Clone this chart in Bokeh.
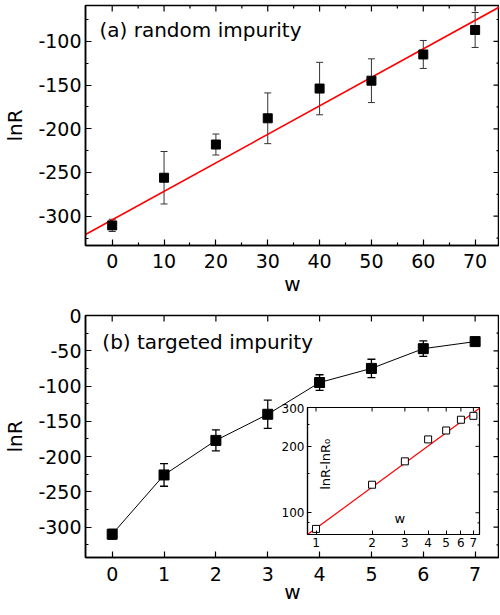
import math
from bokeh.plotting import figure
from bokeh.models import (ColumnDataSource, Whisker, TeeHead, FixedTicker, Range1d, Label,
                          PrintfTickFormatter, Column)
from bokeh.embed import file_html
from bokeh.resources import INLINE

FONT = "DejaVu Sans"

# ---------------- data ----------------
# panel (a): random impurity
a_w = [0, 10, 20, 30, 40, 50, 60, 70]
a_lnR = [-310.5, -256, -218, -188, -154, -145, -115, -87]
a_err = [7, 30, 12, 29, 30, 25, 16, 20]
a_fit_intercept = -304.2
a_fit_slope = 3.26

# panel (b): targeted impurity
b_w = [0, 1, 2, 3, 4, 5, 6, 7]
b_lnR = [-310, -226, -177, -140, -95, -75, -47, -37]
b_err = [7, 16, 15, 20, 11, 13, 11, 6]

# inset: lnR - lnR0 vs w (log-log)
i_w = [1, 2, 3, 4, 5, 6, 7]
i_dlnR = [84.5, 134, 171, 215, 236, 264, 275]
i_fit_pref = 85.0
i_fit_exp = 0.62

a_xticks = [0, 10, 20, 30, 40, 50, 60, 70]
a_xminor = [5, 15, 25, 35, 45, 55, 65]
a_yticks = [-300, -250, -200, -150, -100]
a_yminor = [-325, -275, -225, -175, -125, -75]
b_xticks = [0, 1, 2, 3, 4, 5, 6, 7]
b_yticks = [-300, -250, -200, -150, -100, -50, 0]
b_yminor = [-325, -275, -225, -175, -125, -75, -25]
i_xticks = [1, 2, 3, 4, 5, 6, 7]
i_yticks = [100, 200, 300]
i_yminor = [90, 150, 250]


def style_axis(ax, ticker, size="19px", major_in=6, minor_in=3, lw=1.5):
    ax.ticker = ticker
    ax.formatter = PrintfTickFormatter(format="%d")
    ax.major_tick_in = major_in
    ax.major_tick_out = 0
    ax.minor_tick_in = minor_in
    ax.minor_tick_out = 0
    ax.axis_line_color = "black"
    ax.axis_line_width = lw
    ax.major_tick_line_width = 1.2
    ax.minor_tick_line_width = 1.2
    ax.major_label_text_font = FONT
    ax.major_label_text_font_size = size
    ax.major_label_text_color = "black"
    ax.axis_label_text_font = FONT
    ax.axis_label_text_font_size = "20px"
    ax.axis_label_text_font_style = "normal"
    ax.axis_label_text_color = "black"


def mirror_ticks(p, xmaj, xmin, ymaj, ymin, maj=6, mnr=3, lw=1.2):
    xr, yr = p.x_range, p.y_range
    p.ray(x=xmaj, y=[yr.end] * len(xmaj), length=maj, length_units="screen",
          angle=-math.pi / 2, line_color="black", line_width=lw)
    if xmin:
        p.ray(x=xmin, y=[yr.end] * len(xmin), length=mnr, length_units="screen",
              angle=-math.pi / 2, line_color="black", line_width=lw)
    p.ray(x=[xr.end] * len(ymaj), y=ymaj, length=maj, length_units="screen",
          angle=math.pi, line_color="black", line_width=lw)
    if ymin:
        p.ray(x=[xr.end] * len(ymin), y=ymin, length=mnr, length_units="screen",
              angle=math.pi, line_color="black", line_width=lw)


# ---------------- panel (a) ----------------
TOP_A, BOT_A = 5, 54
pa = figure(frame_width=414, frame_height=240,
            x_range=Range1d(-5.15, 74.7), y_range=Range1d(-333.5, -59),
            output_backend="svg", toolbar_location=None,
            min_border_left=78, min_border_right=0, min_border_top=TOP_A,
            min_border_bottom=BOT_A)
pa.grid.visible = False
pa.outline_line_color = "black"
pa.outline_line_width = 1.5
xa, ya = pa.below[0], pa.left[0]
style_axis(xa, FixedTicker(ticks=a_xticks, minor_ticks=a_xminor))
style_axis(ya, FixedTicker(ticks=a_yticks, minor_ticks=a_yminor))
xa.major_label_standoff = 8
ya.major_label_standoff = 4
xa.axis_label = "w"
ya.axis_label = "lnR"
xa.axis_label_standoff = 1
ya.axis_label_standoff = 8
mirror_ticks(pa, a_xticks, a_xminor, a_yticks, a_yminor)

xa0, xa1 = pa.x_range.start, pa.x_range.end
pa.line([xa0, xa1], [a_fit_intercept + a_fit_slope * xa0, a_fit_intercept + a_fit_slope * xa1],
        line_color="#ff0000", line_width=1.6)

src_a = ColumnDataSource(dict(x=a_w, y=a_lnR,
                              upper=[v + e for v, e in zip(a_lnR, a_err)],
                              lower=[v - e for v, e in zip(a_lnR, a_err)]))
pa.add_layout(Whisker(source=src_a, base="x", upper="upper", lower="lower",
                      line_color="#333333", line_width=1,
                      upper_head=TeeHead(size=7, line_color="#333333", line_width=1),
                      lower_head=TeeHead(size=7, line_color="#333333", line_width=1)))
pa.scatter("x", "y", source=src_a, marker="square", size=9, color="black")
pa.add_layout(Label(x=-2.45, y=-87.5, text="(a) random impurity", text_font=FONT,
                    text_font_size="20px", text_baseline="middle", text_color="black"))

# ---------------- panel (b) ----------------
TOP_B, BOT_B = 16, 48
pb = figure(frame_width=414, frame_height=242,
            x_range=Range1d(-0.515, 7.47), y_range=Range1d(-343, 0),
            output_backend="svg", toolbar_location=None,
            min_border_left=78, min_border_right=0, min_border_top=TOP_B,
            min_border_bottom=BOT_B)
pb.grid.visible = False
pb.outline_line_color = "black"
pb.outline_line_width = 1.5
xb, yb = pb.below[0], pb.left[0]
style_axis(xb, FixedTicker(ticks=b_xticks, minor_ticks=[]))
style_axis(yb, FixedTicker(ticks=b_yticks, minor_ticks=b_yminor))
xb.major_label_standoff = 9
yb.major_label_standoff = 4
xb.axis_label = "w"
yb.axis_label = "lnR"
xb.axis_label_standoff = -4
yb.axis_label_standoff = 8
mirror_ticks(pb, b_xticks, [], b_yticks, b_yminor)

src_b = ColumnDataSource(dict(x=b_w, y=b_lnR,
                              upper=[v + e for v, e in zip(b_lnR, b_err)],
                              lower=[v - e for v, e in zip(b_lnR, b_err)]))
pb.line("x", "y", source=src_b, line_color="black", line_width=1)
pb.add_layout(Whisker(source=src_b, base="x", upper="upper", lower="lower",
                      line_color="black", line_width=1.3,
                      upper_head=TeeHead(size=8, line_color="black", line_width=1.3),
                      lower_head=TeeHead(size=8, line_color="black", line_width=1.3)))
pb.scatter("x", "y", source=src_b, marker="square", size=10, color="black")
pb.add_layout(Label(x=-0.19, y=-37, text="(b) targeted impurity", text_font=FONT,
                    text_font_size="20px", text_baseline="middle", text_color="black"))

# ---------------- inset ----------------
pi = figure(frame_width=172, frame_height=127, x_axis_type="log", y_axis_type="log",
            x_range=Range1d(0.9, 7.55), y_range=Range1d(79.7, 300),
            output_backend="svg", toolbar_location=None,
            min_border_left=32, min_border_right=4, min_border_top=4, min_border_bottom=22)
pi.grid.visible = False
pi.outline_line_color = "black"
pi.outline_line_width = 1.2
pi.border_fill_alpha = 0
pi.background_fill_color = "white"
for ax, tk in ((pi.below[0], FixedTicker(ticks=i_xticks, minor_ticks=[])),
               (pi.left[0], FixedTicker(ticks=i_yticks, minor_ticks=i_yminor))):
    style_axis(ax, tk, size="12px", major_in=4, minor_in=2, lw=1.2)
    ax.major_tick_line_width = 1
    ax.minor_tick_line_width = 1
    ax.major_label_standoff = 3
mirror_ticks(pi, i_xticks, [], i_yticks, i_yminor, maj=4, mnr=2, lw=1)

xi0, xi1 = pi.x_range.start, pi.x_range.end
pi.line([xi0, xi1], [i_fit_pref * xi0 ** i_fit_exp, i_fit_pref * xi1 ** i_fit_exp],
        line_color="#ff0000", line_width=1.2)
pi.scatter(i_w, i_dlnR, marker="square", size=7, fill_color="white",
           line_color="black", line_width=1)
pi.add_layout(Label(x=1.127, y=127, text="lnR-lnR\u2080", angle=1.5708, text_font=FONT,
                    text_font_size="13px", text_baseline="middle", text_align="left",
                    text_color="black"))
pi.add_layout(Label(x=2.82, y=94.6, text="w", text_font=FONT, text_font_size="13px",
                    text_baseline="middle", text_align="center", text_color="black"))

# place the inset over panel (b): its own wrapper, pulled up and right with margins
H_a = TOP_A + 240 + BOT_A
H_b = TOP_B + 242 + BOT_B
inset_top_in_column = 402
wrap = Column(children=[pi])
wrap.margin = (inset_top_in_column - (H_a + H_b), 0, 0, 275)

layout = Column(children=[pa, pb, wrap], spacing=0)
open("out.html", "w").write(file_html(layout, INLINE))
